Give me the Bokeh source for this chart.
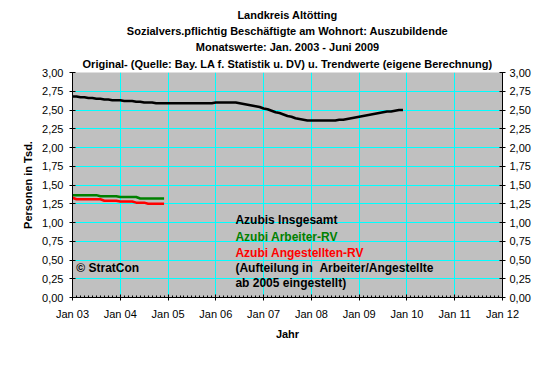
from bokeh.plotting import figure
from bokeh.models import FixedTicker, LinearAxis, Label, Range1d, Grid, Title
from bokeh.embed import file_html
from bokeh.resources import INLINE

# ---- data (thousands of persons), monthly from Jan 2003 ----
start_year = 2003
insgesamt = [
    2.68, 2.68, 2.67, 2.67, 2.66, 2.66, 2.65, 2.65, 2.64, 2.64, 2.63, 2.63,  # 2003
    2.63, 2.62, 2.62, 2.62, 2.61, 2.61, 2.60, 2.60, 2.60, 2.59, 2.59, 2.59,  # 2004
    2.59, 2.59, 2.59, 2.59, 2.59, 2.59, 2.59, 2.59, 2.59, 2.59, 2.59, 2.59,  # 2005
    2.60, 2.60, 2.60, 2.60, 2.60, 2.60, 2.59, 2.58, 2.57, 2.56, 2.55, 2.54,  # 2006
    2.52, 2.51, 2.49, 2.47, 2.46, 2.44, 2.42, 2.41, 2.39, 2.38, 2.37, 2.36,  # 2007
    2.36, 2.36, 2.36, 2.36, 2.36, 2.36, 2.36, 2.37, 2.37, 2.38, 2.39, 2.40,  # 2008
    2.41, 2.42, 2.43, 2.44, 2.45, 2.46, 2.47, 2.48, 2.48, 2.49, 2.50, 2.50,  # 2009
]
arbeiter_rv = [
    1.365, 1.365, 1.365, 1.365, 1.365, 1.365, 1.365, 1.35, 1.35, 1.35, 1.35, 1.35,
    1.34, 1.34, 1.34, 1.34, 1.34, 1.32, 1.32, 1.32, 1.32, 1.32, 1.32, 1.32,
]
angestellten_rv = [
    1.33, 1.31, 1.31, 1.31, 1.31, 1.31, 1.31, 1.31, 1.29, 1.29, 1.29, 1.29,
    1.28, 1.28, 1.28, 1.28, 1.265, 1.265, 1.265, 1.25, 1.25, 1.25, 1.25, 1.25,
]
year_ticks = [2003, 2004, 2005, 2006, 2007, 2008, 2009, 2010, 2011, 2012]
year_labels = ["Jan 03", "Jan 04", "Jan 05", "Jan 06", "Jan 07", "Jan 08",
               "Jan 09", "Jan 10", "Jan 11", "Jan 12"]
y_ticks = [0.0, 0.25, 0.5, 0.75, 1.0, 1.25, 1.5, 1.75, 2.0, 2.25, 2.5, 2.75, 3.0]
y_labels = ["0,00", "0,25", "0,50", "0,75", "1,00", "1,25", "1,50", "1,75",
            "2,00", "2,25", "2,50", "2,75", "3,00"]
titles = [
    "Landkreis Altötting",
    "Sozialvers.pflichtig Beschäftigte am Wohnort: Auszubildende",
    "Monatswerte: Jan. 2003 - Juni 2009",
    "Original- (Quelle: Bay. LA f. Statistik u. DV) u. Trendwerte (eigene Berechnung)",
]
legend_lines = [
    ("Azubis Insgesamt", "black"),
    ("Azubi Arbeiter-RV", "#008000"),
    ("Azubi Angestellten-RV", "#FF0000"),
    ("(Aufteilung in \u00a0Arbeiter/Angestellte", "black"),
    ("ab 2005 eingestellt)", "black"),
]

FONT = "Liberation Sans"

def xs(n):
    return [start_year + i / 12 for i in range(n)]

p = figure(width=544, height=358, output_backend="svg", toolbar_location=None,
           x_range=Range1d(2003, 2012), y_range=Range1d(0, 3),
           min_border_left=72, min_border_right=42, min_border_top=72,
           min_border_bottom=61, x_axis_type=None, y_axis_type=None)
p.background_fill_color = "#C0C0C0"
p.border_fill_color = "white"
p.outline_line_color = None

minor = [start_year + i / 12 for i in range(0, 12 * 9 + 1) if i % 12 != 0]
xt = FixedTicker(ticks=year_ticks, minor_ticks=minor)
yt = FixedTicker(ticks=y_ticks, minor_ticks=[])

def style_axis(ax):
    ax.axis_line_color = "black"
    ax.major_tick_line_color = "black"
    ax.major_tick_in = 3
    ax.major_tick_out = 3
    ax.major_label_text_font = FONT
    ax.major_label_text_font_size = "11px"
    ax.major_label_text_color = "black"
    ax.axis_label_text_font = FONT
    ax.axis_label_text_font_size = "11px"
    ax.axis_label_text_font_style = "bold"
    ax.axis_label_text_color = "black"

xax = LinearAxis(ticker=xt, axis_label="Jahr")
style_axis(xax)
xax.major_label_overrides = {t: l for t, l in zip(year_ticks, year_labels)}
xax.minor_tick_line_color = "black"
xax.minor_tick_in = 2
xax.minor_tick_out = 0
xax.major_label_standoff = 7
xax.axis_label_standoff = 5
p.add_layout(xax, "below")

yax = LinearAxis(ticker=yt, axis_label="Personen in Tsd.")
style_axis(yax)
yax.major_label_overrides = {t: l for t, l in zip(y_ticks, y_labels)}
yax.minor_tick_line_color = None
yax.major_label_standoff = 6
yax.axis_label_standoff = 5
p.add_layout(yax, "left")

yax2 = LinearAxis(ticker=yt)
style_axis(yax2)
yax2.major_label_overrides = {t: l for t, l in zip(y_ticks, y_labels)}
yax2.minor_tick_line_color = None
yax2.major_label_standoff = 4
p.add_layout(yax2, "right")

p.xgrid.visible = False
p.ygrid.visible = False
p.add_layout(Grid(dimension=0, ticker=xt, grid_line_color="#00FFFF", grid_line_width=1))
p.add_layout(Grid(dimension=1, ticker=yt, grid_line_color="#00FFFF", grid_line_width=1))

p.line(xs(len(insgesamt)), insgesamt, line_color="black", line_width=2.5)
p.line(xs(len(arbeiter_rv)), arbeiter_rv, line_color="#008000", line_width=2.5)
p.line(xs(len(angestellten_rv)), angestellten_rv, line_color="#FF0000", line_width=2.5)

# titles: later-added ones sit further from the frame
for i, txt in enumerate(reversed(titles)):
    p.add_layout(Title(text=txt, align="center", text_font=FONT,
                       text_font_size="11px", text_font_style="bold",
                       text_color="black", standoff=5 if i == 0 else 2), "above")

for (txt, col), yy in zip(legend_lines, [1.04, 0.813, 0.60, 0.387, 0.187]):
    p.add_layout(Label(x=2006.41, y=yy, text=txt, text_align="left",
                       text_baseline="middle", text_font=FONT,
                       text_font_size="12px", text_font_style="bold",
                       text_color=col))

p.add_layout(Label(x=2003.08, y=0.387, text="© StratCon", text_align="left",
                   text_baseline="middle", text_font=FONT, text_font_size="12px",
                   text_font_style="bold", text_color="black"))

open("out.html", "w").write(file_html(p, INLINE))
